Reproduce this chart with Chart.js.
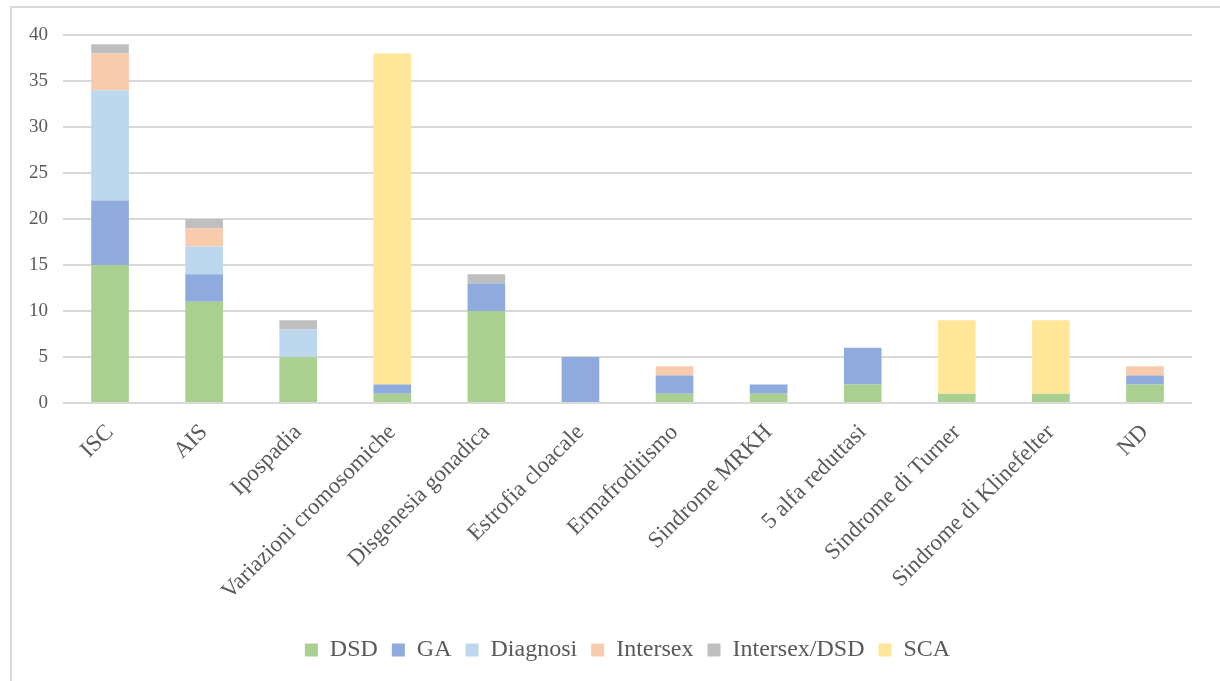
<!DOCTYPE html>
<html>
<head>
<meta charset="utf-8">
<script src="https://cdn.jsdelivr.net/npm/chart.js@4/dist/chart.umd.min.js"></script>
<style>
  html, body { margin: 0; padding: 0; background: #fff; }
  #wrap { position: relative; width: 1220px; height: 681px; overflow: hidden; }
  #frame { position: absolute; left: 10px; top: 6px; width: 1230px; height: 700px;
           border: 2px solid #d9d9d9; pointer-events: none; }
</style>
</head>
<body>
<div id="wrap">
  <canvas id="myChart" width="1220" height="681"></canvas>
  <div id="frame"></div>
</div>
<script>
const categorie = ['ISC', 'AIS', 'Ipospadia', 'Variazioni cromosomiche', 'Disgenesia gonadica',
  'Estrofia cloacale', 'Ermafroditismo', 'Sindrome MRKH', '5 alfa reduttasi',
  'Sindrome di Turner', 'Sindrome di Klinefelter', 'ND'];

const dsd         = [15, 11, 5, 1, 10, 0, 1, 1, 2, 1, 1, 2];
const ga          = [7, 3, 0, 1, 3, 5, 2, 1, 4, 0, 0, 1];
const diagnosi    = [12, 3, 3, 0, 0, 0, 0, 0, 0, 0, 0, 0];
const intersex    = [4, 2, 0, 0, 0, 0, 1, 0, 0, 0, 0, 1];
const intersexDsd = [1, 1, 1, 0, 1, 0, 0, 0, 0, 0, 0, 0];
const sca         = [0, 0, 0, 36, 0, 0, 0, 0, 0, 8, 8, 0];

const tickY = [0, 5, 10, 15, 20, 25, 30, 35, 40];

const testo = '#595959';
const font = 'Liberation Serif, Times New Roman, serif';

function serie(label, data, colore) {
  return { label: label, data: data, backgroundColor: colore, borderWidth: 0,
           barPercentage: 0.4, categoryPercentage: 1 };
}

const config = {
  type: 'bar',
  data: {
    labels: categorie,
    datasets: [
      serie('DSD', dsd, '#a9d08e'),
      serie('GA', ga, '#8faadc'),
      serie('Diagnosi', diagnosi, '#bdd7ee'),
      serie('Intersex', intersex, '#f8cbad'),
      serie('Intersex/DSD', intersexDsd, '#bfbfbf'),
      serie('SCA', sca, '#ffe699')
    ]
  },
  options: {
    responsive: false,
    animation: false,
    layout: { padding: { left: 11, right: 28, top: 35, bottom: 9 } },
    plugins: {
      legend: {
        position: 'bottom',
        fullSize: false,
        labels: { boxWidth: 13, boxHeight: 13, padding: 14, color: testo,
                  font: { family: font, size: 24 } }
      },
      tooltip: { enabled: false }
    },
    scales: {
      x: {
        stacked: true,
        grid: { display: false },
        border: { display: false },
        ticks: { autoSkip: false, minRotation: 45, maxRotation: 45, color: testo,
                 padding: 8, font: { family: font, size: 23 } },
        afterFit: function (scale) { scale.height = 221; }
      },
      y: {
        stacked: true,
        min: 0, max: 40,
        afterBuildTicks: function (scale) { scale.ticks = tickY.map(v => ({ value: v })); },
        grid: { color: '#d9d9d9', lineWidth: 2, drawTicks: false },
        border: { display: false },
        ticks: { padding: 15, color: testo, font: { family: font, size: 19 } },
        afterFit: function (scale) { scale.width = 52; }
      }
    }
  }
};

var ctx = document.getElementById('myChart').getContext('2d');
grafico = new Chart(ctx, config);
</script>
</body>
</html>
